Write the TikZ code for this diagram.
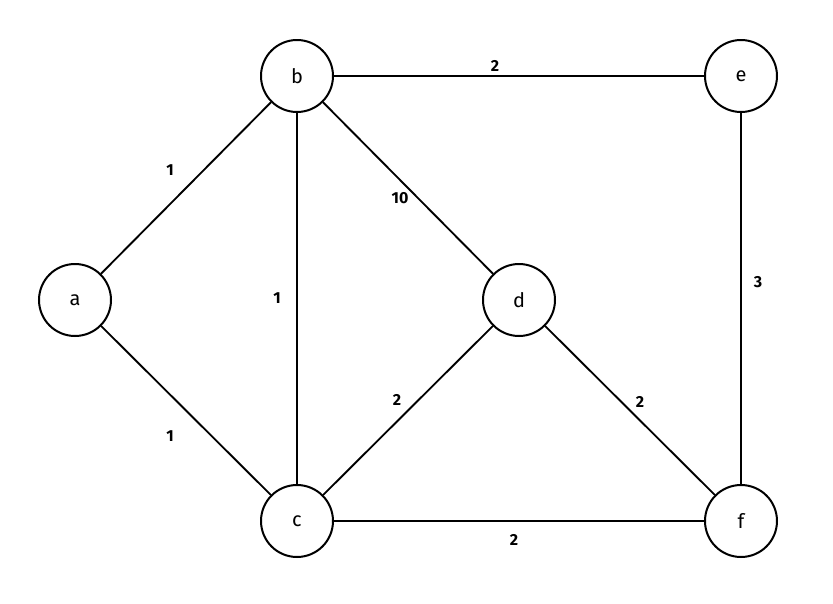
\documentclass[tikz,border=0pt]{standalone}
\usepackage{fontspec}
\setmainfont{Fira Sans}
\begin{document}
\begin{tikzpicture}[x=0.75pt,y=-0.75pt,
  vert/.style={circle,draw=black,line width=1.5pt,minimum size=54pt,inner sep=0pt,fill=white,font=\fontsize{15}{15}\selectfont},
  edge/.style={draw=black,line width=1.4pt},
  wlabel/.style={inner sep=1pt,font=\fontsize{12}{12}\selectfont\bfseries}]
\fill[white] (0,0) rectangle (833,604);
\useasboundingbox (0,0) rectangle (833,604);
\node[vert] (a) at (75,300) {a};
\node[vert] (b) at (297,76) {b};
\node[vert] (c) at (297,521) {c};
\node[vert] (d) at (519,300) {d};
\node[vert] (e) at (741,76) {e};
\node[vert] (f) at (741,521) {f};
\draw[edge] (a) -- (b);
\draw[edge] (a) -- (c);
\draw[edge] (b) -- (c);
\draw[edge] (b) -- (d);
\draw[edge] (b) -- (e);
\draw[edge] (c) -- (d);
\draw[edge] (c) -- (f);
\draw[edge] (d) -- (f);
\draw[edge] (e) -- (f);
\node[wlabel] (lab) at (170,170) {1};
\node[wlabel] (lbd) at (400,198) {10};
\node[wlabel] (lbc) at (277,298) {1};
\node[wlabel] (lbe) at (495,66) {2};
\node[wlabel] (lef) at (758,282) {3};
\node[wlabel] (lcd) at (397,400) {2};
\node[wlabel] (ldf) at (640,402) {2};
\node[wlabel] (lac) at (170,436) {1};
\node[wlabel] (lcf) at (514,540) {2};
\end{tikzpicture}
\end{document}
